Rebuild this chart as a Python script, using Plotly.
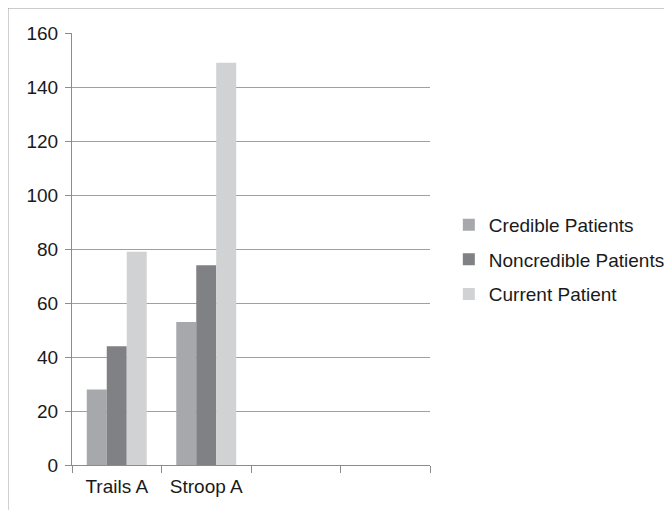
import plotly.graph_objects as go

categories = ['Trails A', 'Stroop A', ' ', '  ']
credible = [28, 53, None, None]
noncredible = [44, 74, None, None]
current = [79, 149, None, None]
y_ticks = [0, 20, 40, 60, 80, 100, 120, 140, 160]


def build_figure():
    fig = go.Figure()
    series = [
        ('Credible Patients', credible, '#a7a8ab'),
        ('Noncredible Patients', noncredible, '#808184'),
        ('Current Patient', current, '#d1d2d4'),
    ]
    for name, values, color in series:
        fig.add_trace(go.Bar(x=categories, y=values, name=name, legendgroup=name,
                             marker=dict(color=color, line=dict(width=0))))

    fig.update_layout(
        width=672, height=510,
        margin=dict(l=64, r=250, t=25, b=53),
        paper_bgcolor='white', plot_bgcolor='white',
        font=dict(family='Liberation Sans, Arial, sans-serif', size=19, color='#1a1a1a'),
        barmode='group', bargap=0.33, bargroupgap=0,
        showlegend=True,
        legend=dict(xref='container', x=0.656, y=0.475, xanchor='left', yanchor='middle',
                    font=dict(size=19), itemwidth=30, tracegroupgap=7,
                    bgcolor='rgba(0,0,0,0)'),
    )
    fig.update_xaxes(type='category', tickson='boundaries', ticks='outside',
                     ticklen=7, tickcolor='#8c8c8c', showline=True,
                     linecolor='#8c8c8c', linewidth=1, showgrid=False,
                     range=[-0.5, 3.5], ticklabelstandoff=4)
    fig.update_yaxes(range=[0, 160], tickvals=y_ticks, ticks='outside',
                     ticklen=6, tickcolor='#8c8c8c', showline=True,
                     linecolor='#8c8c8c', linewidth=1, showgrid=True,
                     gridcolor='#a0a0a0', gridwidth=1, zeroline=False,
                     ticklabelstandoff=3)

    # outer frame of the chart
    fig.add_shape(type='rect', xref='paper', yref='paper',
                  x0=-0.179, x1=1.656, y0=-0.15, y1=1.058,
                  line=dict(color='#8c8c8c', width=1))
    return fig


fig = build_figure()
fig.write_html("out.html")
